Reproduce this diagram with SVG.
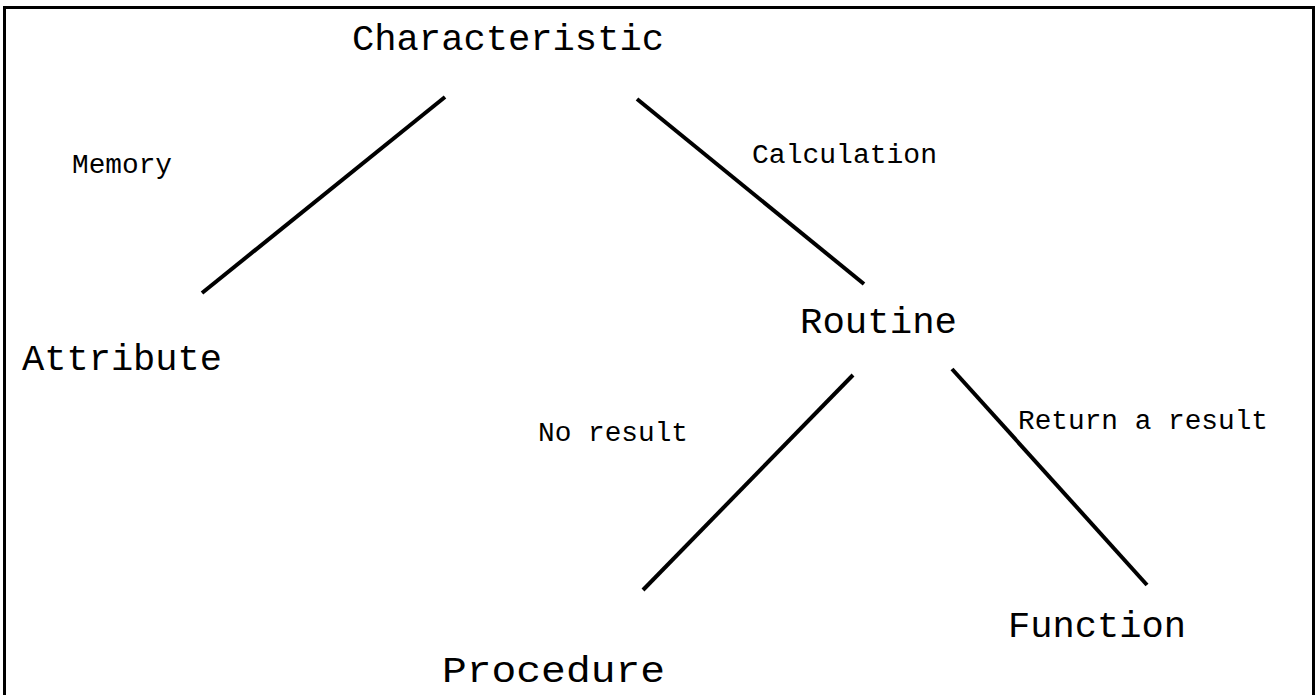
<svg xmlns="http://www.w3.org/2000/svg" width="1316" height="695" viewBox="0 0 1316 695">
  <style>
    .frame { fill: none; stroke: #000; stroke-width: 3; }
    .edge { stroke: #000; stroke-width: 4; fill: none; }
    text { font-family: "Courier New", "Nimbus Mono PS", "FreeMono", "Liberation Mono", monospace; fill: #000; }
    .big { font-size: 37px; }
    .small { font-size: 27px; }
  </style>
  <rect width="1316" height="695" fill="#fff"/>
  <!-- outer frame, open at the bottom -->
  <path class="frame" d="M4.5,700 V7.5 H1313.5 V700"/>

  <g id="connectors">
    <line class="edge" x1="445" y1="97" x2="202" y2="293"/>
    <line class="edge" x1="637" y1="99" x2="864" y2="284"/>
    <line class="edge" x1="853" y1="375" x2="643" y2="590"/>
    <line class="edge" x1="952" y1="369" x2="1147" y2="585"/>
  </g>

  <g id="characteristic"><text class="big" x="352" y="50" textLength="312" lengthAdjust="spacingAndGlyphs">Characteristic</text></g>
  <g id="attribute"><text class="big" x="22" y="370" textLength="200" lengthAdjust="spacingAndGlyphs">Attribute</text></g>
  <g id="routine"><text class="big" x="800" y="333" textLength="157" lengthAdjust="spacingAndGlyphs">Routine</text></g>
  <g id="procedure"><text class="big" x="442" y="682" textLength="223" lengthAdjust="spacingAndGlyphs">Procedure</text></g>
  <g id="function"><text class="big" x="1008" y="637" textLength="178" lengthAdjust="spacingAndGlyphs">Function</text></g>

  <g id="edge-labels">
    <text class="small" x="72" y="173" textLength="100" lengthAdjust="spacingAndGlyphs">Memory</text>
    <text class="small" x="752" y="163" textLength="185" lengthAdjust="spacingAndGlyphs">Calculation</text>
    <text class="small" x="538" y="441" textLength="150" lengthAdjust="spacingAndGlyphs">No result</text>
    <text class="small" x="1018" y="429" textLength="250" lengthAdjust="spacingAndGlyphs">Return a result</text>
  </g>
</svg>
